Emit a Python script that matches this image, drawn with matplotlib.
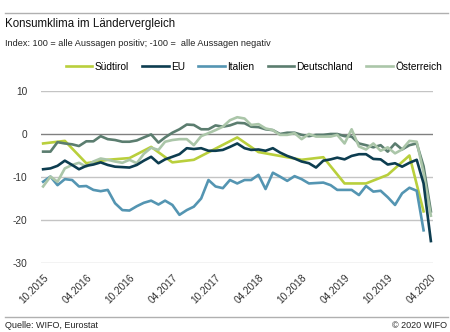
import matplotlib
matplotlib.use("Agg")
import matplotlib.pyplot as plt
import pandas as pd

plt.rcParams['font.family'] = ['Liberation Sans Narrow', 'Liberation Sans', 'DejaVu Sans']

# Data
months = pd.date_range('2015-10-01', '2020-04-01', freq='MS')

eu = [-8.2, -8.0, -7.4, -6.2, -7.2, -8.2, -7.4, -7.1, -6.6, -7.2,
      -7.6, -7.7, -7.8, -7.2, -6.2, -5.3, -6.8, -5.9, -5.3, -4.7,
      -3.3, -3.5, -3.3, -3.9, -3.9, -3.7, -3.0, -2.2, -3.3, -3.7,
      -3.6, -3.9, -3.3, -4.3, -5.1, -5.7, -6.4, -6.8, -7.8, -6.2,
      -5.9, -5.5, -5.9, -5.1, -4.7, -4.7, -5.8, -5.9, -7.1, -6.8,
      -7.6, -6.7, -6.0, -11.5, -24.9]

deutschland = [-4.1, -4.1, -1.9, -2.2, -2.4, -2.8, -1.7, -1.7, -0.5, -1.2,
               -1.4, -1.8, -1.8, -1.5, -0.8, -0.1, -2.0, -0.8, 0.3, 1.1,
               2.2, 2.1, 1.1, 1.1, 2.0, 1.7, 2.0, 2.6, 2.5, 1.7,
               1.6, 1.1, 0.9, 0.0, 0.3, 0.3, -0.2, -0.5, -0.2, -0.2,
               0.0, 0.0, -0.5, -0.6, -2.2, -2.6, -3.1, -2.6, -4.1, -2.2,
               -3.6, -2.6, -2.2, -7.5, -18.0]

oesterreich = [-12.2, -9.9, -11.1, -8.0, -7.2, -6.7, -7.6, -6.4, -5.7, -6.0,
               -6.4, -6.7, -6.0, -6.8, -4.6, -3.2, -3.7, -1.8, -1.4, -1.2,
               -1.2, -2.6, -0.5, 0.2, 0.9, 1.7, 3.2, 3.9, 3.6, 2.1,
               2.3, 1.3, 0.9, -0.2, -0.2, 0.2, -1.2, 0.0, -0.6, -0.6,
               -0.6, -0.2, -2.2, 1.1, -2.9, -3.6, -2.2, -3.9, -3.1, -4.5,
               -3.6, -1.6, -1.8, -9.0, -19.0]

italien = [-11.1, -9.9, -11.9, -10.5, -10.7, -12.2, -12.1, -13.0, -13.3, -13.0,
           -16.1, -17.7, -17.8, -16.8, -16.0, -15.5, -16.4, -15.5, -16.5, -18.8,
           -17.7, -16.9, -15.0, -10.7, -12.2, -12.6, -10.7, -11.5, -10.7, -10.7,
           -9.5, -12.8, -9.0, -9.9, -10.9, -9.8, -10.5, -11.5, -11.4, -11.3,
           -11.9, -13.0, -13.0, -13.0, -14.2, -12.1, -13.4, -13.2, -14.7, -16.5,
           -13.8, -12.5, -13.2, -22.4]

suedtirol_dates = pd.to_datetime([
    '2015-10-01', '2016-01-01', '2016-04-01', '2016-07-01', '2016-10-01',
    '2017-01-01', '2017-04-01', '2017-07-01', '2017-10-01', '2018-01-01',
    '2018-04-01', '2018-07-01', '2018-10-01', '2019-01-01', '2019-04-01',
    '2019-07-01', '2019-10-01', '2020-01-01', '2020-03-01'])
suedtirol = [-2.2, -1.6, -6.8, -6.0, -5.6, -3.0, -6.6, -6.0, -3.4, -0.8,
             -4.2, -5.1, -6.0, -5.4, -11.5, -11.5, -9.5, -5.0, -18.0]

tick_dates = pd.date_range('2015-10-01', '2020-04-01', freq='6MS')
tick_labels = [d.strftime('%m.%Y') for d in tick_dates]

colors = {'Südtirol': '#b9cf3c', 'EU': '#0d3d50', 'Italien': '#5495b2',
          'Deutschland': '#5b7d6f', 'Österreich': '#abc6a9'}

fig = plt.figure(figsize=(4.5, 3.32), dpi=100)
ax = fig.add_axes([41/450, 1 - 263/332, 392/450, 172/332])

lw = 1.9
ax.plot(suedtirol_dates, suedtirol, color=colors['Südtirol'], lw=lw, label='Südtirol', zorder=3)
ax.plot(months, eu, color=colors['EU'], lw=lw, label='EU', zorder=6)
ax.plot(months[:len(italien)], italien, color=colors['Italien'], lw=lw, label='Italien', zorder=4)
ax.plot(months, deutschland, color=colors['Deutschland'], lw=lw, label='Deutschland', zorder=4)
ax.plot(months, oesterreich, color=colors['Österreich'], lw=lw, label='Österreich', zorder=5)

ax.set_ylim(-30, 10)
ax.set_yticks([10, 0, -10, -20, -30])
ax.set_yticklabels(['10', '0', '-10', '-20', '-30'])
pad = pd.Timedelta(days=9)
ax.set_xlim(months[0] - pad, months[-1] + pad)
ax.set_xticks(tick_dates)
ax.set_xticklabels(tick_labels, rotation=45, ha='right', rotation_mode='anchor')

for v in [10, -10, -20, -30]:
    ax.axhline(v, color='#c4c4c4', lw=1.0, zorder=1)
ax.axhline(0, color='#808080', lw=1.0, zorder=1)

for s in ax.spines.values():
    s.set_visible(False)
ax.tick_params(axis='both', length=0, labelsize=7.3, colors='#333333')
ax.tick_params(axis='y', pad=10)
ax.tick_params(axis='x', pad=7)

# header and footer
fig.add_artist(plt.Line2D([5/450, 448/450], [1 - 13/332] * 2, color='#b0b0b0', lw=1))
fig.add_artist(plt.Line2D([5/450, 448/450], [1 - 317/332] * 2, color='#b0b0b0', lw=1))
fig.text(5/450, 1 - 24/332, 'Konsumklima im Ländervergleich', fontsize=8.3,
         va='center', ha='left', color='#111111')
fig.text(5/450, 1 - 44/332, 'Index: 100 = alle Aussagen positiv; -100 =  alle Aussagen negativ',
         fontsize=6.6, va='center', ha='left', color='#222222')
fig.text(5/450, 1 - 326/332, 'Quelle: WIFO, Eurostat', fontsize=6.5, va='center', ha='left', color='#222222')
fig.text(447/450, 1 - 326/332, '© 2020 WIFO', fontsize=6.5, va='center', ha='right', color='#222222')

fig.legend(loc='center right', bbox_to_anchor=(442/450, 1 - 67/332), ncol=5, frameon=False,
           fontsize=7.3, handlelength=2.6, handletextpad=0.25, columnspacing=1.3,
           borderaxespad=0, borderpad=0)

fig.savefig('out.png', dpi=100)
